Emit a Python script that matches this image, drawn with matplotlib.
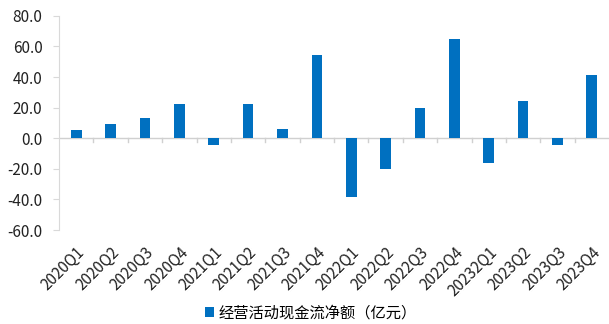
import numpy as np
import matplotlib.pyplot as plt

plt.rcParams['font.family'] = ['Noto Sans CJK SC', 'DejaVu Sans']

quarters = ["2020Q1", "2020Q2", "2020Q3", "2020Q4", "2021Q1", "2021Q2", "2021Q3", "2021Q4",
            "2022Q1", "2022Q2", "2022Q3", "2022Q4", "20232Q1", "2023Q2", "2023Q3", "2023Q4"]
cash_flow = [5.5, 9.2, 13.2, 22.2, -4.6, 22.2, 6.1, 54.1,
             -38.4, -20.2, 19.9, 64.9, -16.4, 24.3, -4.1, 41.2]
yticks = [-60, -40, -20, 0, 20, 40, 60, 80]

fig = plt.figure(figsize=(6.09, 3.24), dpi=100)
ax = fig.add_axes([0.097, 0.29, 0.903, 0.661])

x = np.arange(len(quarters))
ax.bar(x, cash_flow, width=0.31, color="#0070C0", label="经营活动现金流净额（亿元）", zorder=3)

ax.set_xlim(-0.5, len(quarters) - 0.5)
ax.set_ylim(-60, 80)
ax.set_yticks(yticks)
ax.set_yticklabels([f"{v:.1f}" for v in yticks], fontsize=11, color="#222222")

for s in ["top", "right", "bottom"]:
    ax.spines[s].set_visible(False)
ax.spines["left"].set_color("#d9d9d9")
ax.tick_params(axis="y", length=4, color="#d9d9d9", pad=8)

# zero line with category separators
ax.axhline(0, color="#d0d0d0", lw=1, zorder=2)
for b in np.arange(0.5, len(quarters) - 0.5):
    ax.plot([b, b], [0, -2.5], color="#d0d0d0", lw=1, zorder=2, clip_on=False)

ax.set_xticks(x)
ax.set_xticklabels(quarters, rotation=45, ha="right", rotation_mode="anchor", fontsize=11, color="#222222")
ax.tick_params(axis="x", length=0, pad=10)

fig.legend(loc="center", bbox_to_anchor=(0.51, 0.035), frameon=False, fontsize=11,
           handlelength=0.6, handleheight=0.6, handletextpad=0.3)

fig.savefig("out.png", dpi=100)
